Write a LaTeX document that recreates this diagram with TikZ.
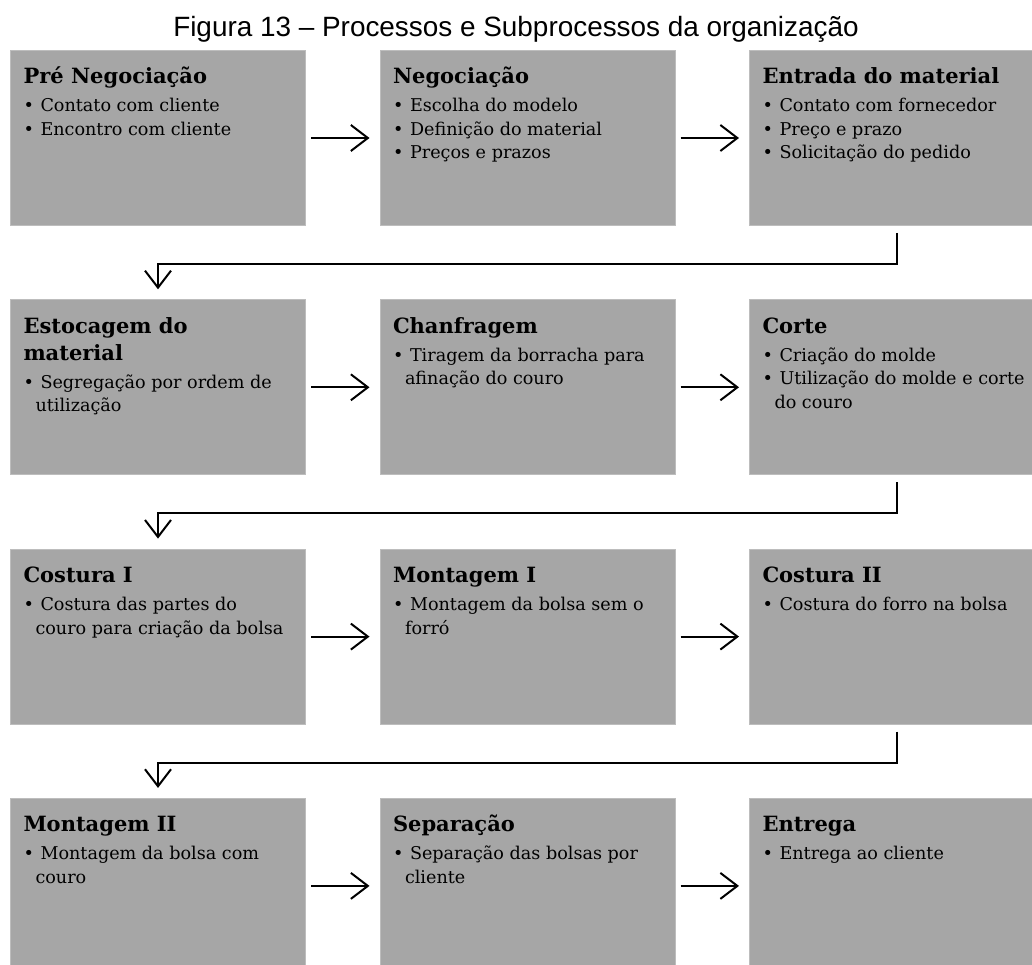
\documentclass[tikz,border=0pt]{standalone}
\usepackage{fontspec}
\setmainfont{DejaVu Serif}
\newfontfamily\titlefont{Liberation Sans}
\usepackage{xcolor}
\usetikzlibrary{arrows.meta, positioning}
\definecolor{boxgray}{HTML}{A6A6A6}
\definecolor{boxedge}{HTML}{BDBDBD}

% heading, body and bullet lines of a box
\newcommand{\cabec}[1]{{\fontsize{21}{27}\selectfont\bfseries\rule{0pt}{33.5pt}#1\par}\vspace{4.5pt}}
\newcommand{\corpo}[1]{{\fontsize{17.6}{23.5}\selectfont #1\par}}
\newcommand{\itm}[1]{\par\hangindent=12pt\hangafter=1\noindent\makebox[17pt][l]{\textbullet}#1}

\tikzset{
    etapa/.style={fill=boxgray, draw=boxedge, line width=1pt, anchor=north west,
        inner xsep=13pt, inner ysep=0pt, minimum width=295pt, minimum height=175pt},
    fluxo/.style={-{Straight Barb[length=17pt, width=26pt]}, line width=2pt},
}

\begin{document}
\begin{tikzpicture}[x=1pt, y=-1pt]
    \useasboundingbox (0,0) rectangle (1032,965);
    \clip (0,0) rectangle (1032,965);

    \node[font=\titlefont\fontsize{27.9}{30}\selectfont] (titulo) at (516,29.5)
        {Figura 13 – Processos e Subprocessos da organização};

    \foreach \x/\y/\n/\h/\b in {
        0/0/pre/{Pré Negociação}/{\itm{Contato com cliente}\itm{Encontro com cliente}},
        1/0/neg/{Negociação}/{\itm{Escolha do modelo}\itm{Definição do material}\itm{Preços e prazos}},
        2/0/ent/{Entrada do material}/{\itm{Contato com fornecedor}\itm{Preço e prazo}\itm{Solicitação do pedido}},
        0/1/est/{Estocagem do\\material}/{\itm{Segregação por ordem de\newline utilização}},
        1/1/cha/{Chanfragem}/{\itm{Tiragem da borracha para\newline afinação do couro}},
        2/1/cor/{Corte}/{\itm{Criação do molde}\itm{Utilização do molde e corte\newline do couro}},
        0/2/cos1/{Costura I}/{\itm{Costura das partes do\newline couro para criação da bolsa}},
        1/2/mon1/{Montagem I}/{\itm{Montagem da bolsa sem o\newline forró}},
        2/2/cos2/{Costura II}/{\itm{Costura do forro na bolsa}},
        0/3/mon2/{Montagem II}/{\itm{Montagem da bolsa com\newline couro}},
        1/3/sep/{Separação}/{\itm{Separação das bolsas por\newline cliente}},
        2/3/eng/{Entrega}/{\itm{Entrega ao cliente}}}
        \node[etapa] (\n) at (369.5*\x + 10, 249.3*\y + 50)
            {\parbox[t][175pt][t]{269pt}{\cabec{\h}\corpo{\b}}};

    % arrows inside a row
    \foreach \a/\b in {pre/neg, neg/ent, est/cha, cha/cor,
        cos1/mon1, mon1/cos2, mon2/sep, sep/eng}
        \draw[fluxo, shorten <=5pt, shorten >=10pt] (\a.east) -- (\b.west);

    % arrows to the next row
    \foreach \a/\b in {ent/est, cor/cos1, cos2/mon2}
        \draw[fluxo, shorten <=7pt, shorten >=10pt] (\a.south) -- ++(0,38) -| (\b.north);
\end{tikzpicture}
\end{document}
